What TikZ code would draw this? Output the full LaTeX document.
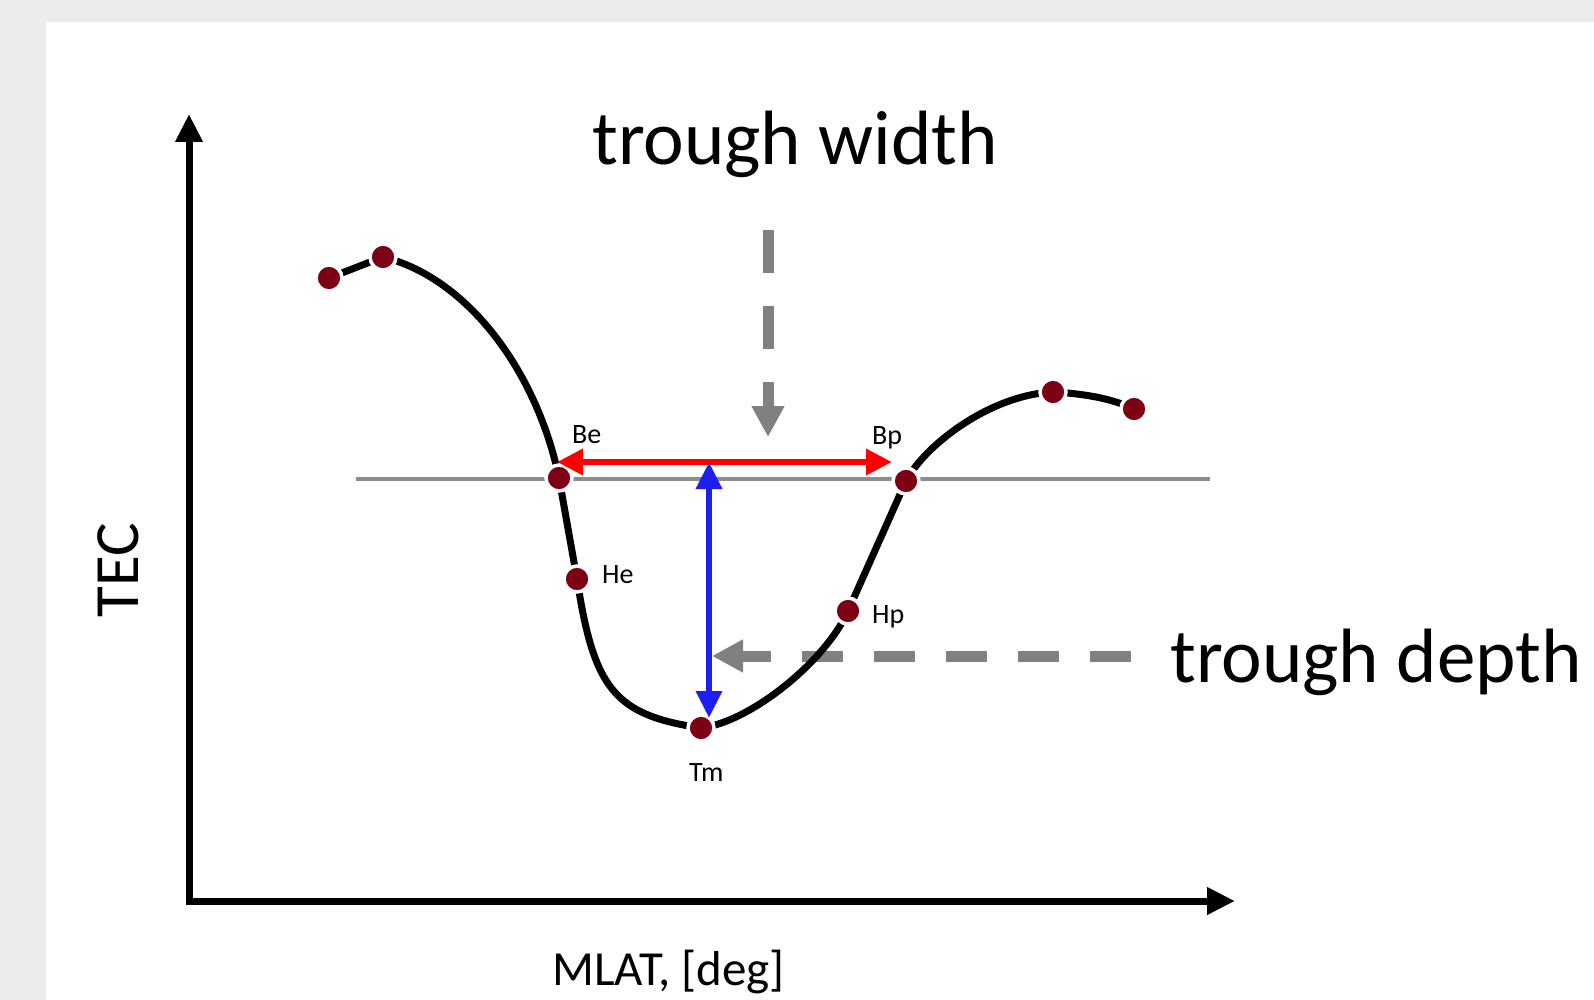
\documentclass[tikz,border=0pt]{standalone}
\usepackage{fontspec}
\setmainfont{Carlito}
\usetikzlibrary{arrows.meta}
\definecolor{bggray}{RGB}{236,236,236}
\definecolor{dotred}{RGB}{125,0,20}
\definecolor{gridgray}{RGB}{140,140,140}
\definecolor{dashgray}{RGB}{128,128,128}
\definecolor{tblue}{RGB}{30,30,240}
\definecolor{tred}{RGB}{255,0,0}
\begin{document}
\begin{tikzpicture}[x=1pt,y=-1pt,
  dot/.style={circle,fill=dotred,draw=white,line width=3.5pt,minimum size=26pt,inner sep=0pt},
  axisline/.style={line width=7pt,line join=miter,{Triangle[length=28pt,width=26pt]}-{Triangle[length=28pt,width=26pt]}},
  curveline/.style={line width=7pt,black},
  refline/.style={line width=3.5pt,gridgray},
  redarrow/.style={line width=6.5pt,tred,{Triangle[length=26pt,width=25pt]}-{Triangle[length=26pt,width=25pt]}},
  bluearrow/.style={line width=6.5pt,tblue,{Triangle[length=27pt,width=25pt]}-{Triangle[length=27pt,width=25pt]}},
  dasharrow/.style={line width=11pt,dashgray,dash pattern=on 41pt off 31pt,-{Triangle[length=31pt,width=31pt]}},
  biglabel/.style={inner sep=0pt,anchor=base west,font=\fontsize{77}{90}\selectfont},
  axislabel/.style={inner sep=0pt,font=\fontsize{63}{70}\selectfont},
  smalllabel/.style={inner sep=0pt,anchor=base west,font=\fontsize{28}{30}\selectfont}
]
\useasboundingbox (0,0) rectangle (1594,1000);
\fill[bggray] (0,0) rectangle (1594,1000);
\fill[white] (46,22) rectangle (1594,1000);

% axes
\coordinate (ytop) at (189,114);
\coordinate (origin) at (189,901);
\coordinate (xend) at (1235,901);
\draw[axisline] (ytop) -- (origin) -- (xend);

% reference level line
\coordinate (refL) at (356,479);
\coordinate (refR) at (1210,479);
\draw[refline] (refL) -- (refR);

% dashed gray pointers
\coordinate (wstart) at (768,230);
\coordinate (wtip) at (768,437);
\draw[dasharrow,dash pattern=on 43pt off 33pt] (wstart) -- (wtip);
\coordinate (dstart) at (1131,656);
\coordinate (dtip) at (712,656);
\draw[dasharrow] (dstart) -- (dtip);

% data point positions
\coordinate (p1) at (329,278);
\coordinate (p2) at (383,257);
\coordinate (pBe) at (559,478);
\coordinate (pHe) at (577,579);
\coordinate (pTm) at (701,728);
\coordinate (pHp) at (848,611);
\coordinate (pBp) at (906,481);
\coordinate (p8) at (1053,392);
\coordinate (p9) at (1134,409);

% curve
\draw[curveline] (p1) -- (p2);
\draw[curveline,line join=round]
  (p2) .. controls (468,278) and (537,372) .. (pBe)
  -- (pHe) .. controls (594,690) and (615,715) .. (pTm)
  .. controls (750,722) and (825,662) .. (pHp)
  -- (pBp) .. controls (925,445) and (990,395) .. (p8)
  .. controls (1090,394) and (1115,400) .. (p9);

% dots
\node[dot] (d1) at (p1) {};
\node[dot] (d2) at (p2) {};
\node[dot] (Be) at (pBe) {};
\node[dot] (He) at (pHe) {};
\node[dot] (Tm) at (pTm) {};
\node[dot] (Hp) at (pHp) {};
\node[dot] (Bp) at (pBp) {};
\node[dot] (d8) at (p8) {};
\node[dot] (d9) at (p9) {};

% width and depth arrows
\coordinate (wl) at (557,462);
\coordinate (wr) at (892,462);
\draw[redarrow] (wl) -- (wr);
\coordinate (dt) at (709,462);
\coordinate (db) at (709,718);
\draw[bluearrow] (dt) -- (db);

% labels
\node[smalllabel] (lBe) at (572,443) {Be};
\node[smalllabel] (lBp) at (872,444) {Bp};
\node[smalllabel] (lHe) at (602,583) {He};
\node[smalllabel] (lHp) at (872,623) {Hp};
\node[smalllabel] (lTm) at (689,781) {Tm};

\node[biglabel] (tw) at (592,165) {trough width};
\node[biglabel] (td) at (1170,682) {trough depth};

\node[axislabel,rotate=90,anchor=base] (tec) at (138,570) {TEC};
\node[inner sep=0pt,anchor=base west,font=\fontsize{49}{55}\selectfont] (mlat) at (552,985) {MLAT, [deg]};
\end{tikzpicture}
\end{document}
